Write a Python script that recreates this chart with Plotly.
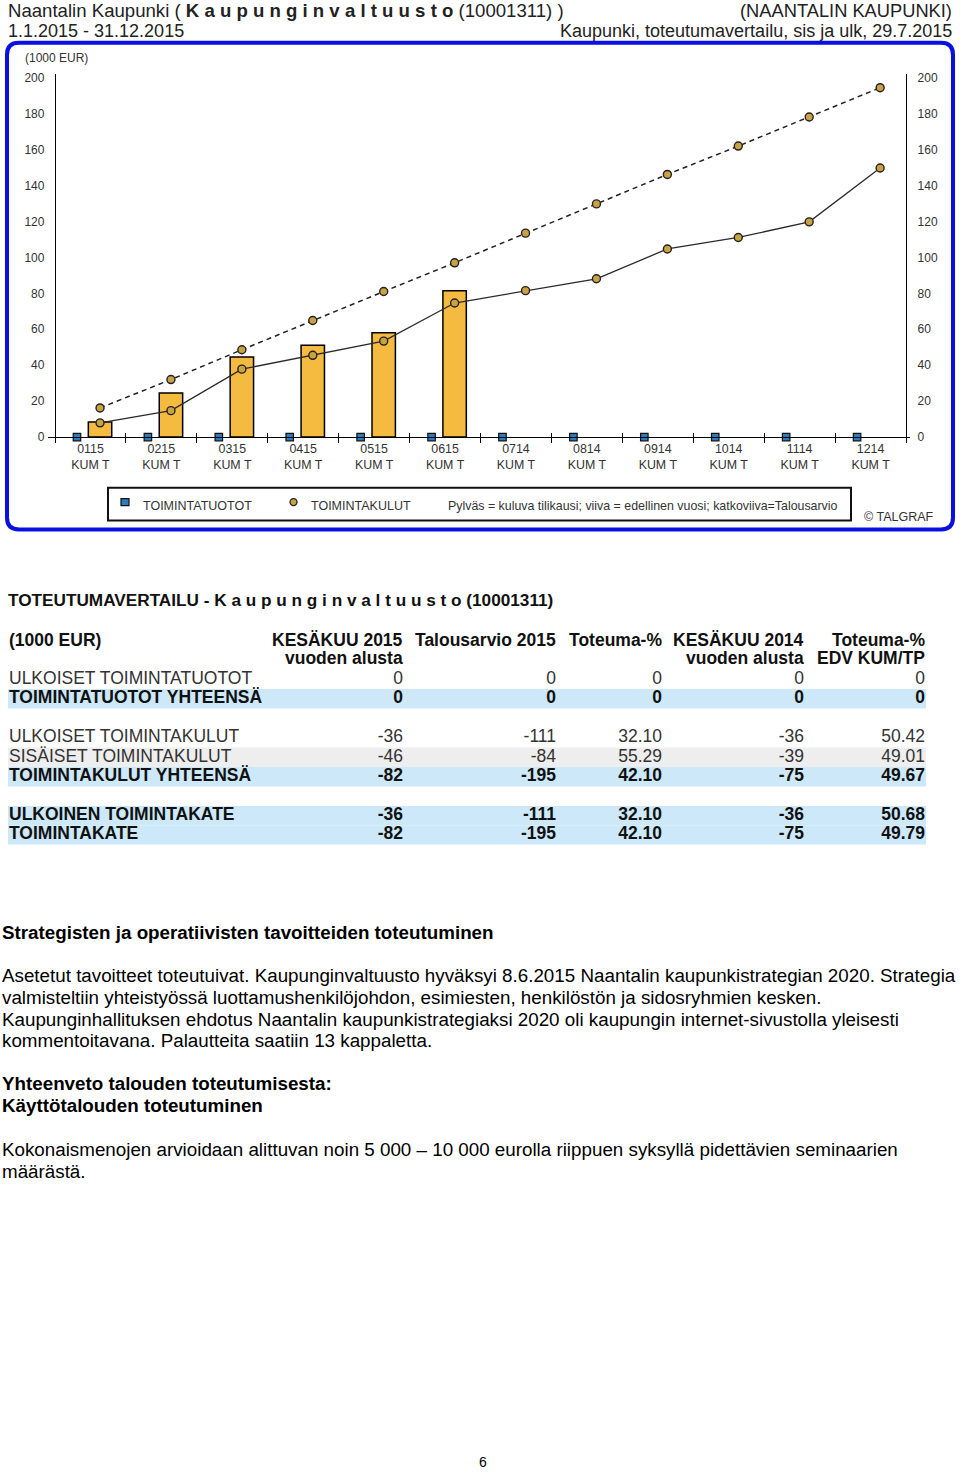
import plotly.graph_objects as go

W, H = 960, 1472

# ---------------- chart data ----------------
months = ["0115", "0215", "0315", "0415", "0515", "0615",
          "0714", "0814", "0914", "1014", "1114", "1214"]
month_suffix = "KUM T"
kulut_2015 = [8.3, 24.5, 44.6, 51.1, 58.1, 81.5]            # bars (current year)
kulut_2014 = [7.9, 14.7, 37.8, 45.5, 53.4, 74.6,
              81.5, 88.1, 104.7, 111.1, 119.8, 149.8]        # solid line (previous year)
kulut_budget = [16.2, 32.0, 48.6, 64.9, 81.0, 97.0,
                113.5, 129.8, 146.2, 162.0, 178.2, 194.5]    # dashed line (budget)
tuotot = [0, 0, 0, 0, 0, 0, 0, 0, 0, 0, 0, 0]                # revenue markers
y_ticks = [0, 20, 40, 60, 80, 100, 120, 140, 160, 180, 200]

# ---------------- table data ----------------
row_labels = ["ULKOISET TOIMINTATUOTOT", "TOIMINTATUOTOT YHTEENSÄ", "",
              "ULKOISET TOIMINTAKULUT", "SISÄISET TOIMINTAKULUT", "TOIMINTAKULUT YHTEENSÄ", "",
              "ULKOINEN TOIMINTAKATE", "TOIMINTAKATE"]
row_kind = ["normal", "sum", "blank", "normal", "alt", "sum", "blank", "sum", "sum"]
kesakuu_2015 = [0, 0, None, -36, -46, -82, None, -36, -82]
talousarvio_2015 = [0, 0, None, -111, -84, -195, None, -111, -195]
toteuma_pct = [0, 0, None, 32.10, 55.29, 42.10, None, 32.10, 42.10]
kesakuu_2014 = [0, 0, None, -36, -39, -75, None, -36, -75]
toteuma_edv = [0, 0, None, 50.42, 49.01, 49.67, None, 50.68, 49.79]
col_headers = [("KESÄKUU 2015", "vuoden alusta"), ("Talousarvio 2015", ""),
               ("Toteuma-%", ""), ("KESÄKUU 2014", "vuoden alusta"),
               ("Toteuma-%", "EDV KUM/TP")]

# ---------------- helpers ----------------
def px(x):
    return x / W

def py(y):
    return 1 - y / H

FONT = "Liberation Sans, Arial, sans-serif"
CHART_TXT = "#333333"

fig = go.Figure()

# main chart geometry (pixel layout)
X0_PX, X12_PX = 55, 906
UNIT = (X12_PX - X0_PX) / 12
Y0_PX, YTOP_PX = 437, 71.7
SQ_OFF, BAR_OFF, BAR_W = 0.31, 0.635, 0.33

bar_x = [i + BAR_OFF for i in range(len(kulut_2015))]
line_x = [i + BAR_OFF for i in range(len(months))]
sq_x = [i + SQ_OFF for i in range(len(months))]

fig.add_trace(go.Bar(x=bar_x, y=kulut_2015, width=BAR_W,
                     marker=dict(color="#F4BB40", line=dict(color="black", width=1.5)),
                     showlegend=False, hoverinfo="skip", xaxis="x", yaxis="y"))
fig.add_trace(go.Scatter(x=line_x, y=kulut_budget, mode="lines+markers",
                         line=dict(color="#222222", width=1.5, dash="5px,4px"),
                         marker=dict(symbol="circle", size=8, color="#C9A244",
                                     line=dict(color="#222222", width=1.4)),
                         showlegend=False, hoverinfo="skip", cliponaxis=False))
fig.add_trace(go.Scatter(x=line_x, y=kulut_2014, mode="lines+markers",
                         line=dict(color="#2a2a2a", width=1.3),
                         marker=dict(symbol="circle", size=8, color="#C9A244",
                                     line=dict(color="#222222", width=1.4)),
                         showlegend=False, hoverinfo="skip", cliponaxis=False))
fig.add_trace(go.Scatter(x=sq_x, y=tuotot, mode="markers",
                         marker=dict(symbol="square", size=7.5, color="#2B7CBC",
                                     line=dict(color="#111111", width=1.2)),
                         showlegend=False, hoverinfo="skip", cliponaxis=False))
# invisible trace to carry the overlay axis (inner tick marks)
fig.add_trace(go.Scatter(x=[None], y=[None], xaxis="x2", yaxis="y",
                         showlegend=False, hoverinfo="skip"))

xr = [(48 - X0_PX) / UNIT, 12 + (910 - X12_PX) / UNIT]
ydom = [py(Y0_PX), py(YTOP_PX)]
yr = [0, 202]

fig.update_layout(
    xaxis=dict(domain=[px(48), px(910)], range=xr, anchor="y",
               showline=True, linecolor="black", linewidth=1.3,
               showgrid=False, zeroline=False,
               tickmode="array", tickvals=[i + 0.5 for i in range(len(months))],
               ticktext=[f"{m}<br>{month_suffix}" for m in months],
               ticks="", tickfont=dict(family=FONT, size=12.4, color=CHART_TXT),
               minor=dict(tickmode="array", tickvals=list(range(13)), ticks="outside",
                          ticklen=5, tickwidth=1.2, tickcolor="black", showgrid=False)),
    xaxis2=dict(domain=[px(48), px(910)], range=xr, anchor="y", overlaying="x",
                showline=False, showgrid=False, zeroline=False,
                tickmode="array", tickvals=list(range(13)), ticks="inside",
                ticklen=4, tickwidth=1.2, tickcolor="black", showticklabels=False),
    yaxis=dict(domain=ydom, range=yr, anchor="free", position=px(X0_PX),
               showline=True, linecolor="black", linewidth=1.3,
               showgrid=False, zeroline=False, ticks="",
               tickmode="array", tickvals=y_ticks, ticklabelstandoff=8,
               tickfont=dict(family=FONT, size=12, color=CHART_TXT)),
    yaxis2=dict(domain=ydom, range=yr, anchor="free", position=px(X12_PX),
                overlaying="y", side="right",
                showline=True, linecolor="black", linewidth=1.3,
                showgrid=False, zeroline=False, ticks="",
                tickmode="array", tickvals=y_ticks, ticklabelstandoff=8,
                tickfont=dict(family=FONT, size=12, color=CHART_TXT)),
)
# dummy on yaxis2 so that it renders
fig.add_trace(go.Scatter(x=[None], y=[None], xaxis="x", yaxis="y2",
                         showlegend=False, hoverinfo="skip"))

# ---------------- table (own axes) ----------------
ROW0_PX, ROW_H = 681, 19.6
n_rows = len(row_labels)
t_top = ROW0_PX - ROW_H / 2
t_bot = ROW0_PX + (n_rows - 0.5) * ROW_H
fig.update_layout(
    xaxis3=dict(domain=[0, 1], range=[0, W], anchor="y3", visible=False),
    yaxis3=dict(domain=[py(t_bot), py(t_top)], range=[n_rows - 0.5, -0.5],
                anchor="x3", visible=False),
)
band_rows = [i for i, k in enumerate(row_kind) if k in ("sum", "alt")]
band_cols = ["#CDE9F9" if row_kind[i] == "sum" else "#EEEEEE" for i in band_rows]
fig.add_trace(go.Bar(orientation="h", y=band_rows, x=[918] * len(band_rows), base=8,
                     width=1, offset=-0.5, marker=dict(color=band_cols, line=dict(width=0)),
                     xaxis="x3", yaxis="y3", showlegend=False, hoverinfo="skip"))

def cell_text(v, kind, pct=False):
    if v is None:
        return ""
    s = (f"{v:.2f}" if (pct and v != 0) else f"{v:d}" if isinstance(v, int) else f"{v}")
    return f"<b>{s}</b>" if kind == "sum" else s

row_colors = ["#111111" if k == "sum" else "#333333" for k in row_kind]
TFS = 17.5
fig.add_trace(go.Scatter(
    x=[9] * n_rows, y=list(range(n_rows)), mode="text",
    text=[f"<b>{l}</b>" if k == "sum" else l for l, k in zip(row_labels, row_kind)],
    textposition="middle right", textfont=dict(family=FONT, size=TFS, color=row_colors),
    xaxis="x3", yaxis="y3", showlegend=False, hoverinfo="skip", cliponaxis=False))

col_right = [403, 556, 662, 804, 925]
col_data = [(kesakuu_2015, False), (talousarvio_2015, False), (toteuma_pct, True),
            (kesakuu_2014, False), (toteuma_edv, True)]
for r, (vals, pct) in zip(col_right, col_data):
    fig.add_trace(go.Scatter(
        x=[r] * n_rows, y=list(range(n_rows)), mode="text",
        text=[cell_text(v, k, pct) for v, k in zip(vals, row_kind)],
        textposition="middle left", textfont=dict(family=FONT, size=TFS, color=row_colors),
        xaxis="x3", yaxis="y3", showlegend=False, hoverinfo="skip", cliponaxis=False))

# ---------------- annotations ----------------
ann = []
DY = 3  # annotation boxes render slightly high; compensate

def add_text(text, x, y, size, anchor="left", color="black", family=FONT):
    ann.append(dict(text=text, x=px(x), y=py(y + DY), xref="paper", yref="paper",
                    xanchor=anchor, yanchor="middle", showarrow=False,
                    font=dict(family=family, size=size, color=color)))

# chart header
add_text("Naantalin Kaupunki ( <b>K a u p u n g i n v a l t u u s t o</b> (10001311) )",
         6, 5, 18.6, color="#222222")
add_text("1.1.2015 - 31.12.2015", 6, 25, 18, color="#222222")
add_text("(NAANTALIN KAUPUNKI)", 954, 5, 18.3, anchor="right", color="#222222")
add_text("Kaupunki, toteutumavertailu, sis ja ulk, 29.7.2015", 954, 25, 18,
         anchor="right", color="#222222")
add_text("(1000 EUR)", 23, 52, 12, color=CHART_TXT)

# legend (manual)
add_text("TOIMINTATUOTOT", 141, 503, 12.5, color=CHART_TXT)
add_text("TOIMINTAKULUT", 309, 503, 12.5, color=CHART_TXT)
add_text("Pylväs = kuluva tilikausi; viiva = edellinen vuosi; katkoviiva=Talousarvio",
         446, 503, 12.4, color=CHART_TXT)
add_text("© TALGRAF", 862, 515, 12.5, color=CHART_TXT)

# table header
add_text("<b>TOTEUTUMAVERTAILU - K a u p u n g i n v a l t u u s t o (10001311)</b>",
         6, 598, 17.2, color="#111111")
add_text("<b>(1000 EUR)</b>", 7, 638, 17.5, color="#111111")
for r, (h1, h2) in zip(col_right, col_headers):
    add_text(f"<b>{h1}</b>", r + 2, 638, 17.5, anchor="right", color="#111111")
    if h2:
        add_text(f"<b>{h2}</b>", r + 2, 656, 17.5, anchor="right", color="#111111")

# body text
PFS = 18.8
add_text("<b>Strategisten ja operatiivisten tavoitteiden toteutuminen</b>", 0, 933, PFS)
para = ["Asetetut tavoitteet toteutuivat. Kaupunginvaltuusto hyväksyi 8.6.2015 Naantalin kaupunkistrategian 2020. Strategia",
        "valmisteltiin yhteistyössä luottamushenkilöjohdon, esimiesten, henkilöstön ja sidosryhmien kesken.",
        "Kaupunginhallituksen ehdotus Naantalin kaupunkistrategiaksi 2020 oli kaupungin internet-sivustolla yleisesti",
        "kommentoitavana. Palautteita saatiin 13 kappaletta."]
for i, line in enumerate(para):
    add_text(line, 0, 976 + 22 * i, PFS)
add_text("<b>Yhteenveto talouden toteutumisesta:</b>", 0, 1085, PFS)
add_text("<b>Käyttötalouden toteutuminen</b>", 0, 1107, PFS)
add_text("Kokonaismenojen arvioidaan alittuvan noin 5 000 – 10 000 eurolla riippuen syksyllä pidettävien seminaarien",
         0, 1151, PFS)
add_text("määrästä.", 0, 1173, PFS)
add_text("6", 483, 1466, 14, anchor="center")

# ---------------- shapes ----------------
def rounded_rect(x0, y0, x1, y1, r):
    rx, ry = r / W, r / H
    a0, a1 = px(x0), px(x1)
    b0, b1 = py(y1), py(y0)  # bottom, top in paper
    return (f"M {a0+rx},{b1} L {a1-rx},{b1} Q {a1},{b1} {a1},{b1-ry} "
            f"L {a1},{b0+ry} Q {a1},{b0} {a1-rx},{b0} L {a0+rx},{b0} "
            f"Q {a0},{b0} {a0},{b0+ry} L {a0},{b1-ry} Q {a0},{b1} {a0+rx},{b1} Z")

shapes = [
    dict(type="path", path=rounded_rect(7, 40, 953, 530, 12), xref="paper", yref="paper",
         line=dict(color="#0A10E0", width=4), layer="below"),
    dict(type="rect", xref="paper", yref="paper", x0=px(108), x1=px(851),
         y0=py(521), y1=py(488), line=dict(color="#111111", width=2)),
    # legend symbols
    dict(type="rect", xref="paper", yref="paper", x0=px(121), x1=px(129),
         y0=py(506), y1=py(499), fillcolor="#2B7CBC", line=dict(color="#111111", width=1.2)),
    dict(type="circle", xref="paper", yref="paper", x0=px(290), x1=px(297),
         y0=py(506), y1=py(499), fillcolor="#C9A244", line=dict(color="#222222", width=1.3)),
]

fig.update_layout(width=W, height=H, margin=dict(l=0, r=0, t=0, b=0),
                  paper_bgcolor="white", plot_bgcolor="rgba(0,0,0,0)",
                  showlegend=False, annotations=ann, shapes=shapes,
                  barmode="overlay")

fig.write_html("out.html")
